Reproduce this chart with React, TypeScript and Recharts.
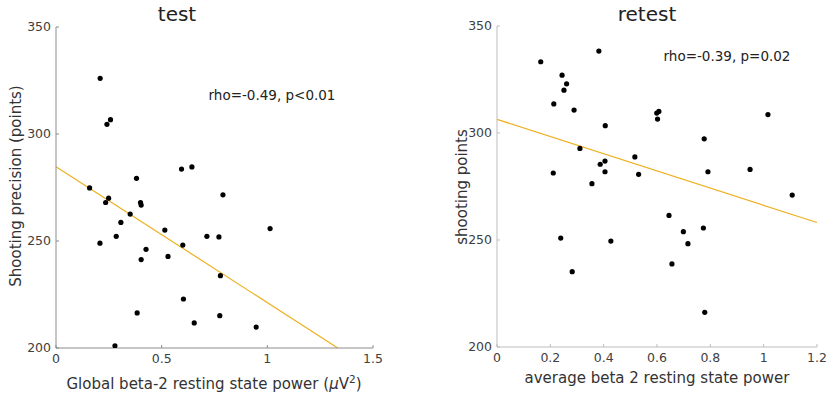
import React from 'react';
import { ScatterChart, Scatter, XAxis, YAxis, ReferenceLine } from 'recharts';

// test session
const testPower = [
  0.209, 0.241, 0.258, 0.159, 0.249, 0.235, 0.381, 0.4, 0.403, 0.351, 0.307,
  0.285, 0.208, 0.515, 0.6, 0.426, 0.403, 0.53, 0.594, 0.643, 0.79, 0.714,
  0.771, 1.013, 0.778, 0.603, 0.384, 0.775, 0.654, 0.947, 0.279,
];
const testScore = [
  326, 304.5, 306.7, 274.8, 270, 268, 279.3, 268, 266.8, 262.6, 258.7,
  252.2, 249, 255.1, 248.1, 246.1, 241.3, 242.8, 283.6, 284.6, 271.6, 252.2,
  251.9, 255.8, 233.8, 222.9, 216.4, 215.1, 211.7, 209.8, 201,
];
const testFit = { intercept: 284.7, slope: -63.5, xEnd: 1.333 };

// retest session
const retestPower = [
  0.164, 0.382, 0.244, 0.261, 0.251, 0.213, 0.289, 0.406, 0.599, 0.607, 0.602,
  1.016, 0.777, 0.311, 0.517, 0.387, 0.405, 0.405, 0.211, 0.531, 0.791, 0.949,
  0.356, 1.107, 0.645, 0.774, 0.699, 0.716, 0.239, 0.427, 0.656, 0.282, 0.779,
];
const retestScore = [
  333.3, 338.3, 327, 323, 320, 313.6, 310.7, 303.4, 309.3, 310.1, 306.5,
  308.6, 297.3, 292.8, 288.8, 285.4, 286.9, 281.9, 281.3, 280.7, 281.9, 283,
  276.3, 271, 261.5, 255.6, 253.9, 248.3, 250.9, 249.5, 238.8, 235.2, 216.2,
];
const retestFit = { intercept: 306.4, slope: -40.2, xEnd: 1.2 };

const testTicks = [0, 0.5, 1, 1.5];
const retestTicks = [0, 0.2, 0.4, 0.6, 0.8, 1, 1.2];
const yTicks = [200, 250, 300, 350];

const FONT = '"DejaVu Sans", sans-serif';
const LINE = '#EDB120';

const toPoints = (xs: number[], ys: number[]) => xs.map((x, i) => ({ x, y: ys[i] }));

const Dot = (p: any) => <circle cx={p.cx} cy={p.cy} r={2.6} fill="#000" />;

const tickStyle = { fontSize: 12.5, fill: '#404040', fontFamily: FONT };

function Panel({ data, fit, xDomain, xTicks, axisColor, margin, width }: any) {
  return (
    <ScatterChart width={width} height={393} margin={margin} style={{ overflow: 'visible' }}>
      <XAxis
        type="number"
        dataKey="x"
        domain={xDomain}
        ticks={xTicks}
        height={30}
        stroke={axisColor}
        tickSize={-3}
        tickMargin={9}
        tick={tickStyle}
        allowDataOverflow
      />
      <YAxis
        type="number"
        dataKey="y"
        domain={[200, 350]}
        ticks={yTicks}
        width={40}
        stroke={axisColor}
        tickSize={-3}
        tickMargin={8}
        tick={tickStyle}
        allowDataOverflow
      />
      <ReferenceLine
        segment={[
          { x: 0, y: fit.intercept },
          { x: fit.xEnd, y: fit.intercept + fit.slope * fit.xEnd },
        ]}
        stroke={LINE}
        strokeWidth={1.2}
        ifOverflow="visible"
      />
      <Scatter data={data} shape={Dot} isAnimationActive={false} />
    </ScatterChart>
  );
}

const abs = (left: number, top: number, extra: any = {}) => ({
  position: 'absolute' as const,
  left,
  top,
  fontFamily: FONT,
  color: '#333',
  whiteSpace: 'nowrap' as const,
  ...extra,
});

export default function App() {
  return (
    <div style={{ position: 'absolute', left: 0, top: 0, width: 826, height: 393, background: '#fff', overflow: 'hidden' }}>
      <div style={{ position: 'absolute', left: 0, top: 0 }}>
        <Panel
          data={toPoints(testPower, testScore)}
          fit={testFit}
          xDomain={[0, 1.5]}
          xTicks={testTicks}
          axisColor="#8c8c8c"
          width={400}
          margin={{ top: 27, right: 27, bottom: 15, left: 16 }}
        />
      </div>
      <div style={{ position: 'absolute', left: 440, top: 0 }}>
        <Panel
          data={toPoints(retestPower, retestScore)}
          fit={retestFit}
          xDomain={[0, 1.2]}
          xTicks={retestTicks}
          axisColor="#bdbdbd"
          width={386}
          margin={{ top: 26, right: 9, bottom: 16, left: 17 }}
        />
      </div>

      <div style={abs(177, 14, { fontSize: 20, transform: 'translate(-50%, -50%)', color: '#222' })}>test</div>
      <div style={abs(647, 14, { fontSize: 20, transform: 'translate(-50%, -50%)', color: '#222' })}>retest</div>

      <div style={abs(272, 95, { fontSize: 13.5, transform: 'translate(-50%, -50%)', color: '#222' })}>rho=-0.49, p&lt;0.01</div>
      <div style={abs(727, 56, { fontSize: 13.5, transform: 'translate(-50%, -50%)', color: '#222' })}>rho=-0.39, p=0.02</div>

      <div style={abs(214, 383, { fontSize: 15, transform: 'translate(-50%, -50%)' })}>
        Global beta-2 resting state power (<i>μ</i>V<sup style={{ fontSize: 10.5 }}>2</sup>)
      </div>
      <div style={abs(657, 378, { fontSize: 15, transform: 'translate(-50%, -50%)' })}>
        average beta 2 resting state power
      </div>

      <div style={abs(15.5, 186, { fontSize: 15, transform: 'translate(-50%, -50%) rotate(-90deg)' })}>
        Shooting precision (points)
      </div>
      <div style={abs(462, 187, { fontSize: 15, transform: 'translate(-50%, -50%) rotate(-90deg)' })}>
        shooting points
      </div>
    </div>
  );
}
